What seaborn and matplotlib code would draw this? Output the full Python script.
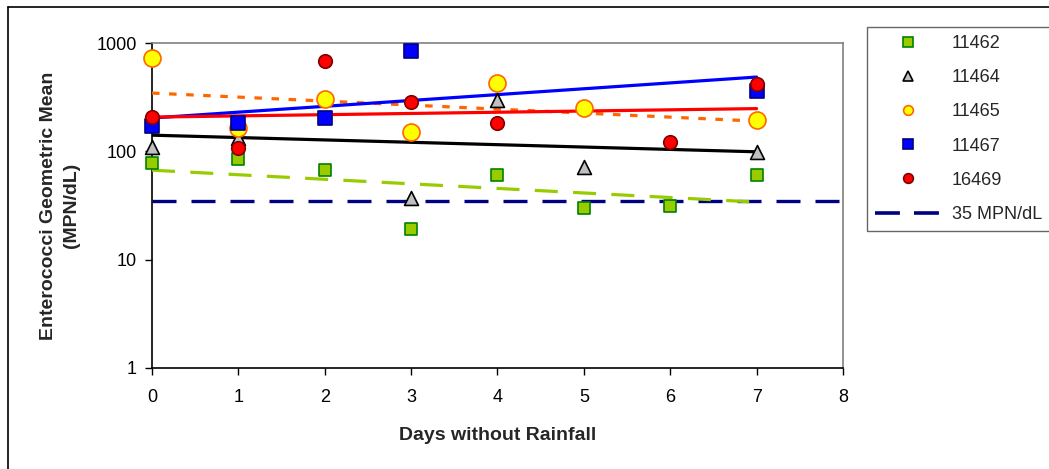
"""
Enterococci geometric mean vs days without rainfall, log scale.
"""

import matplotlib
matplotlib.use("Agg")
import matplotlib.pyplot as plt
from matplotlib.lines import Line2D
import seaborn as sns
import numpy as np
import pandas as pd

# data
days = [0, 1, 2, 3, 4, 5, 6, 7]
stations = ["11462", "11464", "11465", "11467", "16469"]
s11462 = [78, 85, 67, 19, 60, 30, 31, 60]
s11464 = [110, 133, np.nan, 37, 298, 72, np.nan, 99]
s11465 = [730, 164, 304, 151, 430, 253, np.nan, 195]
s11467 = [171, 184, 203, 849, np.nan, np.nan, np.nan, 361]
s16469 = [209, 107, 682, 287, 181, np.nan, 123, 416]

# trend line values at day 0 and day 7
trend_days = [0, 7]
trend_start = [67, 141, 345, 203, 207]
trend_end = [34, 99, 190, 485, 248]

threshold_days = [0, 8]
threshold = 35
threshold_label = "35 MPN/dL"

values = [s11462, s11464, s11465, s11467, s16469]
df = pd.DataFrame({
    "day": days * len(stations),
    "station": np.repeat(stations, len(days)),
    "value": np.concatenate(values),
})

styles = {
    "11462": dict(marker="s", face="#99CC00", edge="#008000", size=80),
    "11464": dict(marker="^", face="#C0C0C0", edge="#000000", size=100),
    "11465": dict(marker="o", face="#FFFF00", edge="#FF6600", size=150),
    "11467": dict(marker="s", face="#0000FF", edge="#000080", size=90),
    "16469": dict(marker="o", face="#FF0000", edge="#800000", size=95),
}
trend_styles = {
    "11462": dict(color="#99CC00", dashes=(7.2, 4.8)),
    "11464": dict(color="#000000", dashes=None),
    "11465": dict(color="#FF6600", dashes=(2.35, 3.0)),
    "11467": dict(color="#0000FF", dashes=None),
    "16469": dict(color="#FF0000", dashes=None),
}

sns.set_theme(style="white")
plt.rcParams["font.family"] = ["Liberation Sans", "DejaVu Sans"]

fig = plt.figure(figsize=(10.49, 4.69), dpi=100)
ax = fig.add_axes([0.1449, 0.2154, 0.8036 - 0.1449, 0.9083 - 0.2154])

# threshold line
thr = pd.DataFrame({"day": threshold_days, "value": [threshold] * 2})
sns.lineplot(data=thr, x="day", y="value", ax=ax, color="#000080",
             linewidth=2.4, zorder=2)
ax.lines[-1].set_dashes((7.2, 4.5))

# trend lines
for st, a, b in zip(stations, trend_start, trend_end):
    t = pd.DataFrame({"day": trend_days, "value": [a, b]})
    sty = trend_styles[st]
    sns.lineplot(data=t, x="day", y="value", ax=ax, color=sty["color"],
                 linewidth=2.3, zorder=3)
    if sty["dashes"]:
        ax.lines[-1].set_dashes(sty["dashes"])

# markers
for st in stations:
    sty = styles[st]
    sub = df[df["station"] == st].dropna()
    sns.scatterplot(data=sub, x="day", y="value", ax=ax, marker=sty["marker"],
                    color=sty["face"], edgecolor=sty["edge"], linewidth=1.2,
                    s=sty["size"], zorder=4, legend=False, clip_on=False)

ax.set_yscale("log")
ax.set_ylim(1, 1000)
ax.set_xlim(0, 8)
ax.set_yticks([1, 10, 100, 1000])
ax.set_yticklabels(["1", "10", "100", "1000"])
ax.yaxis.set_minor_locator(matplotlib.ticker.NullLocator())
ax.set_xticks(range(0, 9))

ax.tick_params(axis="both", direction="out", length=5, width=1,
               labelsize=13, colors="black", left=True, bottom=True)
ax.tick_params(axis="y", pad=6)
ax.tick_params(axis="x", pad=10)
for side in ["left", "bottom"]:
    ax.spines[side].set_color("black")
    ax.spines[side].set_linewidth(1.2)
for side in ["top", "right"]:
    ax.spines[side].set_color("#808080")
    ax.spines[side].set_linewidth(1.2)

ax.set_xlabel("Days without Rainfall", fontsize=14, fontweight="bold",
              labelpad=15)
ax.set_ylabel("Enterococci Geometric Mean\n(MPN/dL)", fontsize=14,
              fontweight="bold", labelpad=12, linespacing=1.45)

# legend
handles = []
for st in stations:
    sty = styles[st]
    handles.append(Line2D([], [], linestyle="none", marker=sty["marker"],
                          markerfacecolor=sty["face"],
                          markeredgecolor=sty["edge"], markeredgewidth=1.2,
                          markersize=7, label=st))
handles.append(Line2D([], [], color="#000080", linewidth=2.6,
                      dashes=(6.9, 3.9), label=threshold_label))
leg = fig.legend(handles=handles, loc="upper left",
                 bbox_to_anchor=(0.8265, 0.9424), bbox_transform=fig.transFigure,
                 fontsize=13, frameon=True, fancybox=False, borderpad=0.45,
                 labelspacing=0.95, handlelength=3.6, handletextpad=0.65,
                 borderaxespad=0)
leg.get_frame().set_edgecolor("#404040")
leg.get_frame().set_linewidth(1.0)

# outer chart frame
fig.add_artist(Line2D([0.0076, 1.0], [0.985, 0.985], color="black",
                      linewidth=1.2, transform=fig.transFigure))
fig.add_artist(Line2D([0.0076, 0.0076], [0.0, 0.985], color="black",
                      linewidth=1.2, transform=fig.transFigure))

fig.savefig("out.png", dpi=100)
